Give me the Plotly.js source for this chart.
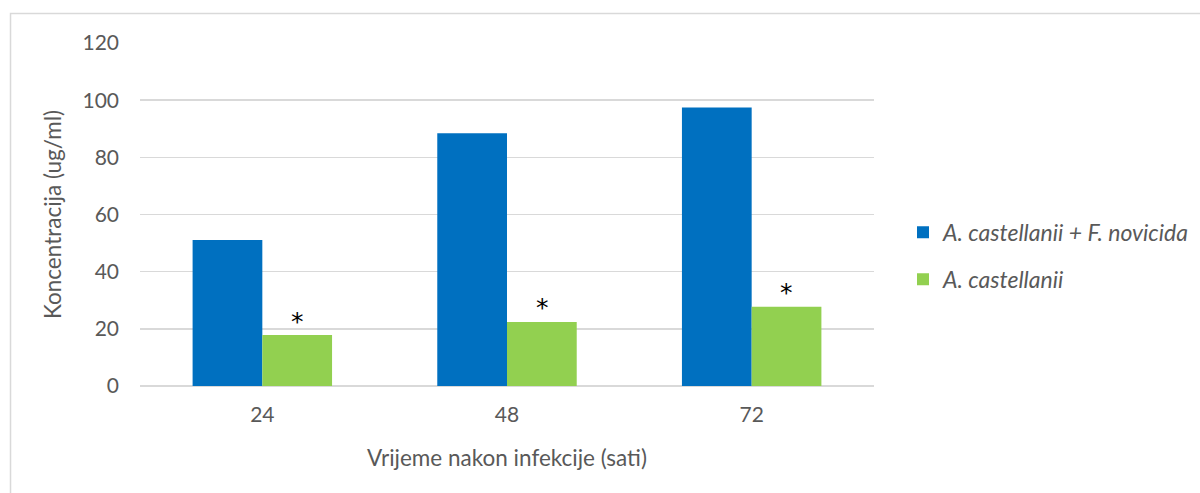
<!DOCTYPE html>
<html>
<head>
<meta charset="utf-8">
<script src="https://cdn.plot.ly/plotly-3.0.1.min.js"></script>
<style>
  html, body { margin: 0; padding: 0; background: #fff; }
  #chart { width: 1200px; height: 493px; }
</style>
</head>
<body>
<div id="chart"></div>
<script>
const categories = ["24", "48", "72"];
const seriesNames = ["A. castellanii + F. novicida", "A. castellanii"];
const infectedValues = [51.1, 88.4, 97.4];
const controlValues = [17.8, 22.4, 27.7];
const significance = ["*", "*", "*"];
const yTicks = [0, 20, 40, 60, 80, 100, 120];

const font = "Lato, 'Open Sans', sans-serif";
const textColor = "#595959";

const traces = [
  {
    type: "bar", x: categories, y: infectedValues, name: seriesNames[0],
    marker: { color: "#0070C0" }, legendgroup: "a", hoverinfo: "y"
  },
  {
    type: "bar", x: categories, y: controlValues, name: seriesNames[1],
    marker: { color: "#92D050" }, legendgroup: "b", hoverinfo: "y"
  }
];

const annotations = categories.map((c, i) => ({
  x: i, y: controlValues[i], xref: "x", yref: "y",
  text: significance[i], showarrow: false,
  xshift: 35, yshift: 14,
  font: { family: "'DejaVu Sans', sans-serif", size: 25, color: "#000" }
}));

const layout = {
  width: 1200, height: 493,
  margin: { l: 140, r: 326, t: 43, b: 107 },
  paper_bgcolor: "#fff", plot_bgcolor: "#fff",
  font: { family: font, color: textColor, size: 21 },
  barmode: "group", bargap: 0.43, bargroupgap: 0,
  showlegend: true,
  legend: {
    xref: "container", yref: "container",
    x: 0.7525, y: 0.481, xanchor: "left", yanchor: "middle",
    font: { family: font, size: 23, color: textColor, style: "italic" },
    tracegroupgap: 14, bgcolor: "rgba(0,0,0,0)"
  },
  xaxis: {
    type: "category", range: [-0.5, 2.5], showgrid: false, zeroline: false, showline: false,
    ticks: "", tickfont: { size: 21, color: textColor },
    ticklabelstandoff: 14,
    title: { text: "Vrijeme nakon infekcije (sati)", font: { size: 22.5, color: textColor }, standoff: 25 }
  },
  yaxis: {
    range: [0, 120], tickvals: yTicks, showgrid: true, gridcolor: "#d9d9d9", gridwidth: 1.5,
    zeroline: true, zerolinecolor: "#d9d9d9", zerolinewidth: 1.5, showline: false,
    ticks: "", tickfont: { size: 21, color: textColor },
    ticklabelstandoff: 20,
    title: { text: "Koncentracija (ug/ml)", font: { size: 22.5, color: textColor }, standoff: 14 }
  },
  shapes: [{
    type: "path", xref: "paper", yref: "paper",
    path: "M -0.1764,-0.4 L -0.1764,1.086 L 1.6,1.086",
    line: { color: "#d9d9d9", width: 1.5 }
  }],
  annotations: annotations
};

Plotly.newPlot("chart", traces, layout, { displayModeBar: false, staticPlot: true });
</script>
</body>
</html>
